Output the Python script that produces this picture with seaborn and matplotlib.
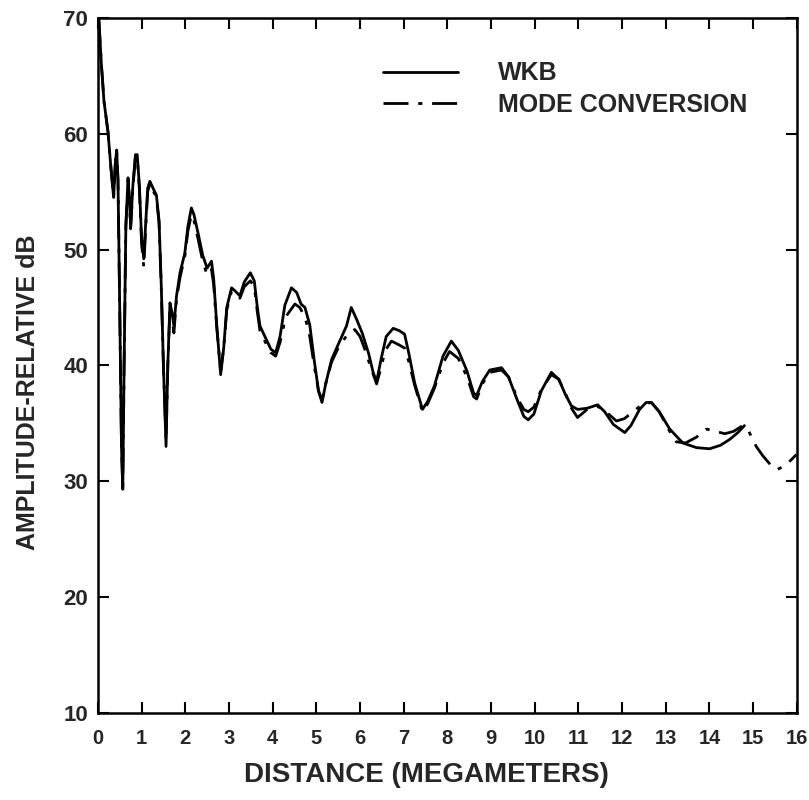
import matplotlib
matplotlib.use("Agg")
import matplotlib.pyplot as plt
import seaborn as sns
import pandas as pd

# WKB amplitude vs distance (Mm, dB)
wkb_x = [0.02, 0.08, 0.14, 0.23, 0.30, 0.36, 0.40, 0.43, 0.46, 0.50, 0.54, 0.57,
         0.60, 0.64, 0.69, 0.72, 0.75, 0.80, 0.86, 0.90, 0.95, 1.00, 1.05, 1.09,
         1.14, 1.19, 1.25, 1.34, 1.40, 1.45, 1.50, 1.56, 1.60, 1.65, 1.70, 1.74,
         1.80, 1.88, 1.99, 2.06, 2.14, 2.20, 2.30, 2.40, 2.50, 2.60, 2.65, 2.72,
         2.81, 2.88, 2.95, 3.06, 3.15, 3.25, 3.35, 3.49, 3.58, 3.65, 3.71, 3.86,
         3.96, 4.07, 4.17, 4.28, 4.43, 4.55, 4.65, 4.74, 4.85, 4.95, 5.05, 5.13,
         5.22, 5.35, 5.50, 5.69, 5.80, 5.92, 6.05, 6.20, 6.30, 6.38, 6.48, 6.60,
         6.76, 6.90, 7.02, 7.12, 7.25, 7.43, 7.55, 7.70, 7.90, 8.09, 8.25, 8.45,
         8.60, 8.67, 8.80, 8.97, 9.24, 9.40, 9.60, 9.75, 9.85, 9.98, 10.15, 10.38,
         10.55, 10.70, 10.84, 10.98, 11.20, 11.44, 11.60, 11.80, 12.06, 12.20,
         12.40, 12.55, 12.67, 12.85, 13.09, 13.39, 13.70, 14.00, 14.25, 14.46,
         14.65, 14.80]
wkb_y = [70.0, 66.0, 62.8, 60.2, 57.0, 54.5, 57.5, 58.6, 56.0, 45.0, 33.0, 29.3,
         40.0, 52.0, 56.2, 54.5, 52.0, 55.5, 58.2, 58.2, 55.5, 51.0, 49.2, 52.0,
         55.3, 55.9, 55.4, 54.7, 52.5, 47.0, 40.0, 33.0, 40.0, 45.4, 44.5, 43.4,
         46.0, 48.0, 49.7, 52.0, 53.6, 53.0, 51.3, 49.5, 48.4, 49.0, 47.5, 43.5,
         39.2, 41.5, 45.0, 46.7, 46.4, 46.0, 47.2, 48.0, 47.3, 45.0, 43.4, 42.2,
         41.4, 41.1, 42.5, 45.2, 46.7, 46.3, 45.3, 45.0, 43.5, 40.5, 37.8, 36.8,
         38.5, 40.5, 41.8, 43.4, 45.0, 44.0, 42.8, 41.0, 39.4, 38.6, 40.5, 42.5,
         43.2, 43.0, 42.7, 41.0, 38.5, 36.2, 36.9, 38.2, 40.8, 42.1, 41.3, 39.5,
         37.6, 37.4, 38.6, 39.6, 39.8, 39.0, 37.0, 35.6, 35.3, 35.8, 37.8, 39.4,
         38.8, 37.5, 36.5, 36.2, 36.3, 36.6, 36.0, 34.9, 34.2, 34.8,
         36.2, 36.8, 36.8, 36.0, 34.5, 33.3, 32.9, 32.8, 33.1, 33.6,
         34.2, 34.8]

# Mode-conversion amplitude vs distance (Mm, dB)
mc_x = [0.02, 0.08, 0.14, 0.23, 0.30, 0.36, 0.40, 0.43, 0.46, 0.50, 0.54, 0.57,
        0.60, 0.64, 0.69, 0.72, 0.75, 0.80, 0.86, 0.90, 0.95, 1.00, 1.05, 1.09,
        1.14, 1.19, 1.25, 1.34, 1.40, 1.45, 1.50, 1.56, 1.60, 1.65, 1.70, 1.74,
        1.80, 1.88, 1.99, 2.06, 2.14, 2.20, 2.30, 2.40, 2.50, 2.60, 2.65, 2.72,
        2.81, 2.88, 2.95, 3.06, 3.15, 3.25, 3.35, 3.49, 3.58, 3.65, 3.71, 3.86,
        3.96, 4.07, 4.17, 4.30, 4.51, 4.62, 4.74, 4.85, 4.95, 5.05, 5.13,
        5.22, 5.35, 5.50, 5.70, 5.88, 6.00, 6.10, 6.25, 6.38, 6.48, 6.58,
        6.72, 6.88, 7.02, 7.12, 7.25, 7.43, 7.55, 7.70, 7.90, 8.05, 8.25, 8.45,
        8.60, 8.67, 8.80, 8.97, 9.24, 9.40, 9.60, 9.75, 9.85, 9.98, 10.15, 10.38,
        10.55, 10.70, 10.84, 10.98, 11.20, 11.42, 11.60, 11.87, 12.05, 12.25,
        12.45, 12.67, 12.85, 13.09, 13.24, 13.45, 13.70, 13.93, 14.15, 14.35,
        14.55, 14.76, 14.90, 15.07, 15.22, 15.40, 15.55, 15.75, 15.99]
mc_y = [70.0, 66.0, 62.8, 60.2, 57.0, 54.5, 57.5, 58.6, 56.0, 45.0, 33.0, 29.3,
        40.0, 52.0, 56.0, 54.3, 51.8, 55.3, 58.0, 58.0, 55.2, 50.5, 48.5, 51.5,
        55.0, 55.7, 55.2, 54.5, 52.3, 46.8, 40.0, 33.5, 40.0, 45.0, 44.0, 42.8,
        45.7, 47.6, 49.4, 51.6, 53.0, 52.5, 50.8, 49.0, 47.8, 48.3, 47.0, 43.3,
        39.5, 41.5, 44.8, 46.4, 46.2, 45.8, 46.8, 47.3, 46.8, 44.6, 43.0, 41.8,
        41.1, 40.8, 42.0, 44.2, 45.3, 45.0, 44.2, 42.5, 40.0, 37.8, 37.0,
        38.5, 40.3, 41.5, 42.6, 43.1, 42.5, 41.5, 39.8, 38.4, 39.8, 41.3,
        42.1, 41.8, 41.5, 40.3, 38.3, 36.0, 36.7, 38.0, 40.2, 41.2, 40.6, 39.0,
        37.3, 37.1, 38.4, 39.4, 39.6, 39.0, 37.2, 36.2, 36.0, 36.4, 37.9, 39.2,
        38.8, 37.6, 36.3, 35.5, 36.2, 36.5, 36.1, 35.2, 35.4, 36.0,
        36.6, 36.8, 36.0, 34.3, 33.4, 33.3, 33.8, 34.5, 34.3, 34.1,
        34.3, 34.8, 34.3, 33.0, 32.2, 31.4, 31.0, 31.4, 32.3]

x_ticks = list(range(0, 17))
y_ticks = [10, 20, 30, 40, 50, 60, 70]

wkb = pd.DataFrame({"distance": wkb_x, "amplitude": wkb_y})
mc = pd.DataFrame({"distance": mc_x, "amplitude": mc_y})

sns.set_style("ticks")
plt.rcParams["font.family"] = ["Liberation Sans", "DejaVu Sans"]
plt.rcParams["font.weight"] = "bold"

fig = plt.figure(figsize=(8.09, 8.0), dpi=100)
ax = fig.add_axes([0.121, 0.109, 0.864, 0.8685])

sns.lineplot(data=mc, x="distance", y="amplitude", ax=ax, color="black",
             linewidth=2.0, linestyle=(0, (9, 3.5, 1.5, 3.5)), estimator=None,
             sort=False, label="MODE CONVERSION")
sns.lineplot(data=wkb, x="distance", y="amplitude", ax=ax, color="black",
             linewidth=2.0, estimator=None, sort=False, label="WKB")

ax.set_xlim(0, 16)
ax.set_ylim(10, 70)
ax.set_xticks(x_ticks)
ax.set_yticks(y_ticks)
ax.tick_params(direction="in", length=8, width=1.5, top=True, right=True,
               color="black")
ax.tick_params(axis="x", labelsize=14.5, pad=12)
ax.tick_params(axis="y", labelsize=16, pad=7)
for lab in ax.get_xticklabels() + ax.get_yticklabels():
    lab.set_fontweight("bold")
for sp in ax.spines.values():
    sp.set_linewidth(1.8)
    sp.set_color("black")

ax.set_xlabel("")
ax.set_ylabel("")
fig.text(0.527, 0.031, "DISTANCE (MEGAMETERS)", fontsize=20,
         fontweight="bold", ha="center", va="center")
fig.text(0.035, 0.51, "AMPLITUDE-RELATIVE dB", rotation=90, fontsize=18,
         fontweight="bold", ha="center", va="center")

handles, labels = ax.get_legend_handles_labels()
leg = ax.legend(handles[::-1], labels[::-1], frameon=False, loc="upper left",
                bbox_to_anchor=(0.376, 0.97), fontsize=18, handlelength=3.0,
                handletextpad=1.6, labelspacing=0.3, borderpad=0.4)
for t in leg.get_texts():
    t.set_fontweight("bold")

fig.savefig("out.png", dpi=100, facecolor="white")
